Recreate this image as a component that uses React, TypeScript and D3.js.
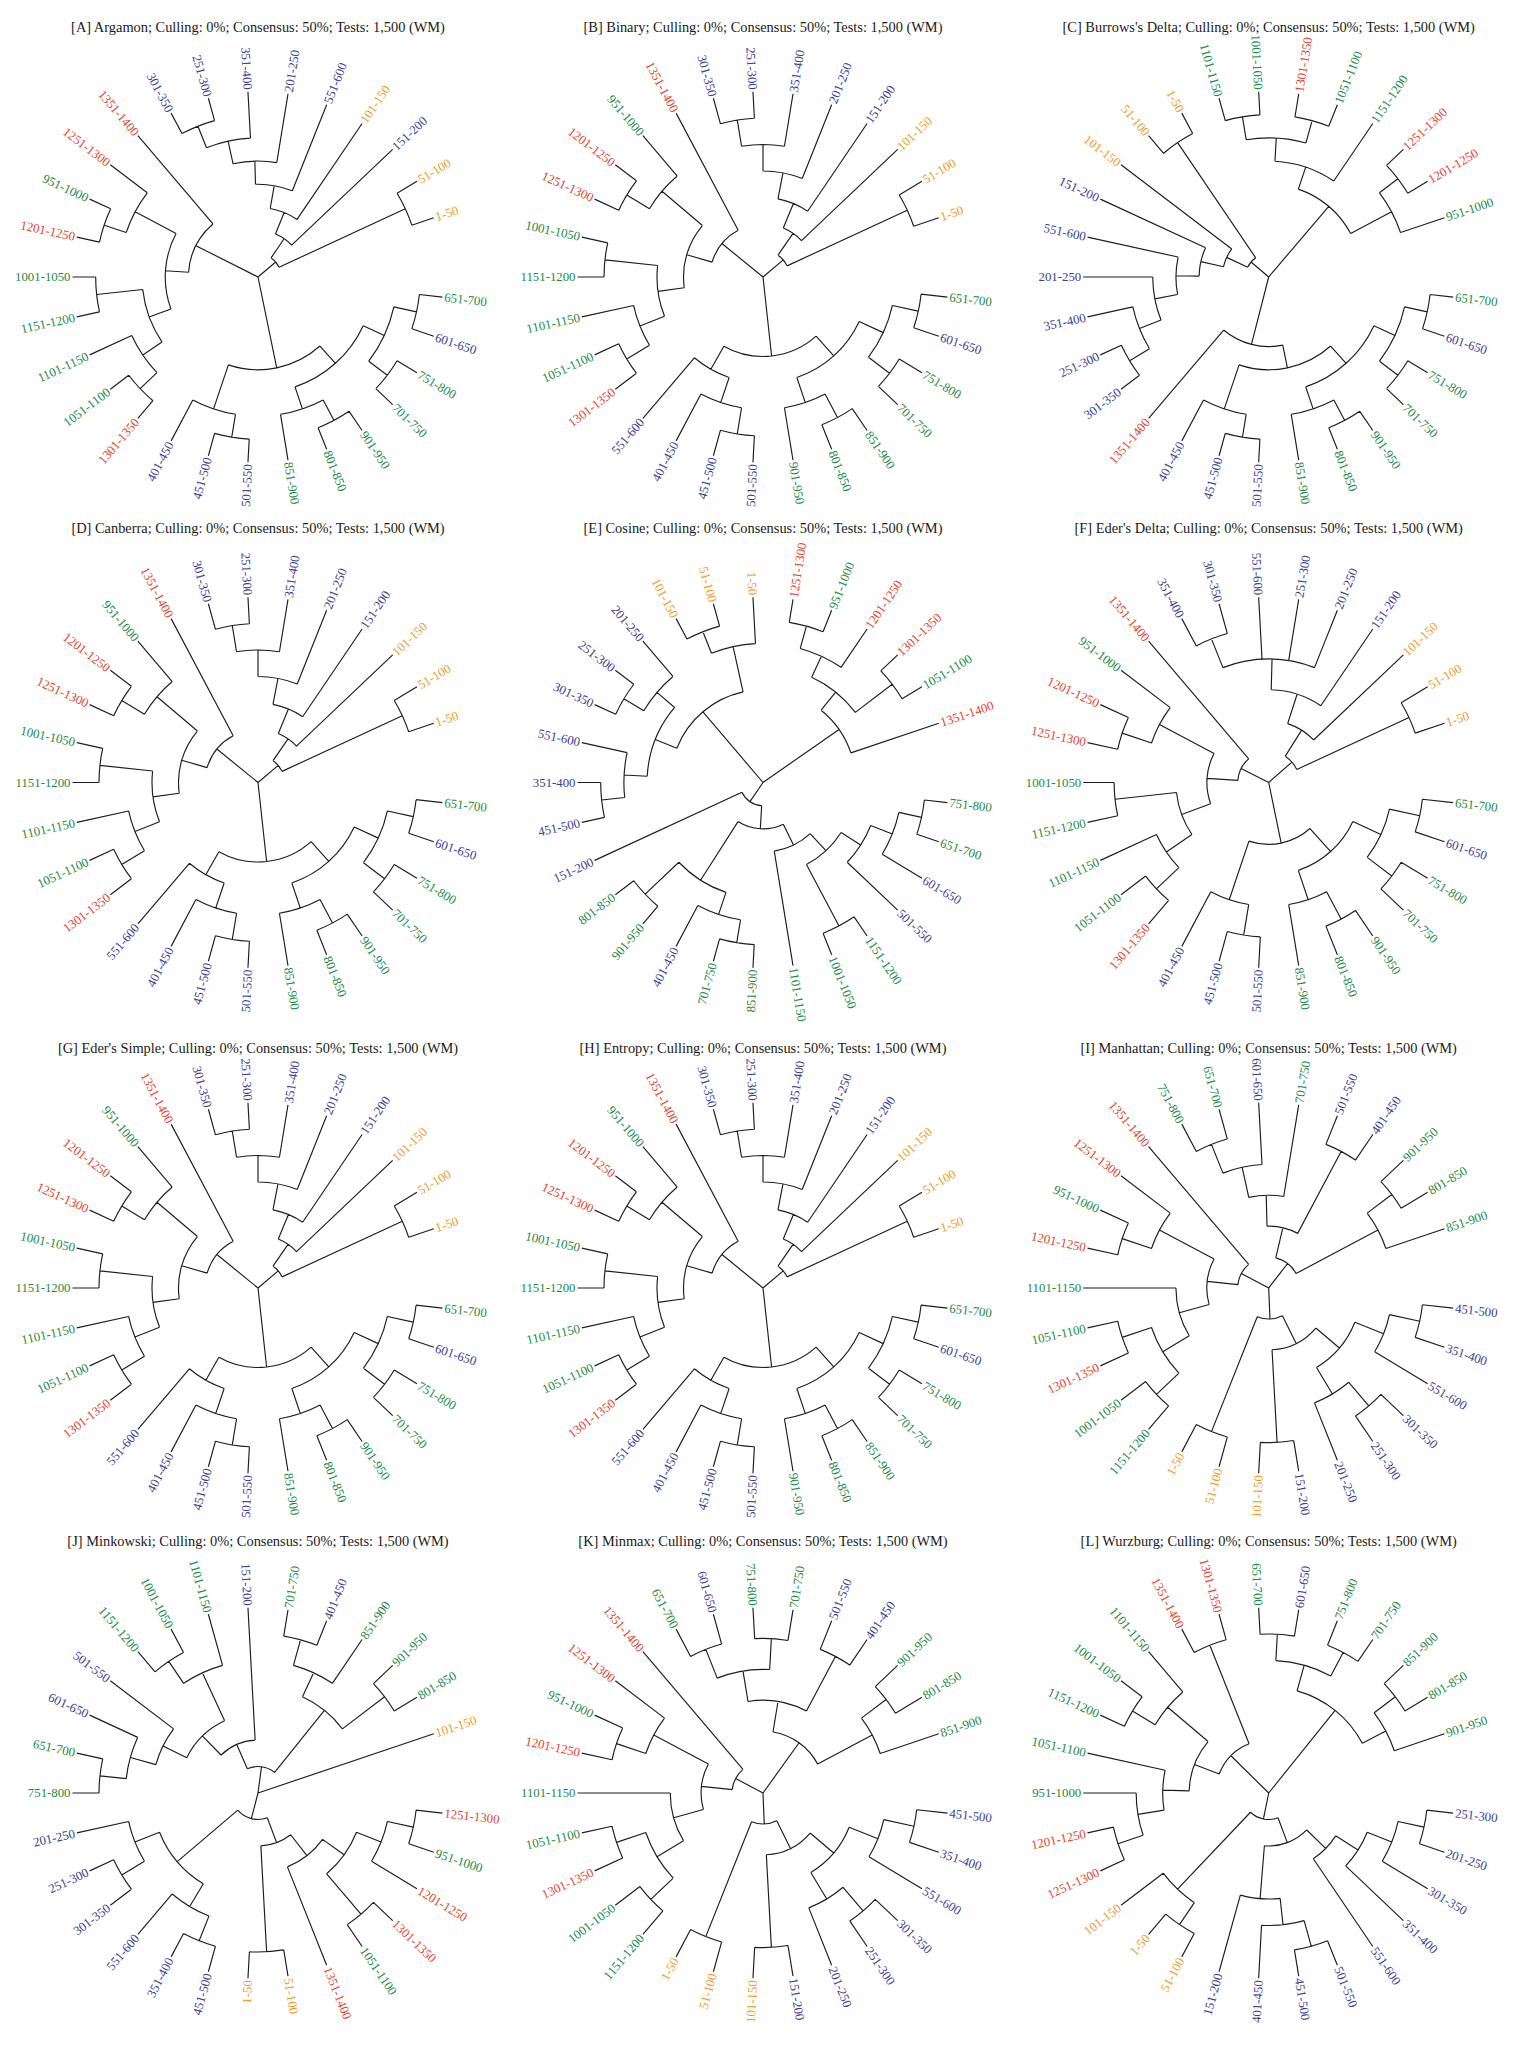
import * as d3 from 'd3';

const WIDTH = 1528;
const HEIGHT = 2048;
const TIP_RADIUS = 185.5;
const LABEL_GAP = 2;
// tips sit on 29 equal angular slots, the first one 1.5 slots above east
const N_SLOTS = 29;
const FIRST_SLOT = 1.5;

const COL_X = [258, 763, 1268.7];
const ROW_Y = [277, 782.5, 1288, 1793];
const TITLE_Y = [27, 528, 1048, 1541];

const LETTERS = ['A', 'B', 'C', 'D', 'E', 'F', 'G', 'H', 'I', 'J', 'K', 'L'];
const METHODS = [
  'Argamon', 'Binary', "Burrows's Delta", 'Canberra', 'Cosine', "Eder's Delta",
  "Eder's Simple", 'Entropy', 'Manhattan', 'Minkowski', 'Minmax', 'Wurzburg',
];
const SETTINGS = 'Culling: 0%; Consensus: 50%; Tests: 1,500 (WM)';

// segment groups (label colours)
const ORANGE_SEGMENTS = ['1-50', '51-100', '101-150'];
const BLUE_SEGMENTS = ['151-200', '201-250', '251-300', '301-350', '351-400', '401-450', '451-500', '501-550', '551-600', '601-650'];
const GREEN_SEGMENTS = ['651-700', '701-750', '751-800', '801-850', '851-900', '901-950', '951-1000', '1001-1050', '1051-1100', '1101-1150', '1151-1200'];
const RED_SEGMENTS = ['1201-1250', '1251-1300', '1301-1350', '1351-1400'];

// consensus trees, tips in counter-clockwise order starting from the east
const TREES = [
  // A Argamon
  '(((1-50,51-100),(151-200,(101-150,(551-600,(201-250,(351-400,(251-300,301-350))))))),(1351-1400,((1251-1300,(951-1000,1201-1250)),((1001-1050,1151-1200),(1101-1150,(1051-1100,1301-1350))))),((401-450,(451-500,501-550)),((851-900,(801-850,901-950)),((701-750,751-800),(601-650,651-700)))))',
  // B Binary
  '(((1-50,51-100),(101-150,(151-200,(201-250,(351-400,(251-300,301-350)))))),(1351-1400,((951-1000,(1201-1250,1251-1300)),((1001-1050,1151-1200),(1101-1150,(1051-1100,1301-1350))))),((551-600,(401-450,(451-500,501-550))),((901-950,(801-850,851-900)),((701-750,751-800),(601-650,651-700)))))',
  // C Burrows's Delta
  '(((951-1000,(1201-1250,1251-1300)),(1151-1200,((1051-1100,1301-1350),(1001-1050,1101-1150)))),((1-50,51-100),(101-150,(151-200,(551-600,(201-250,(351-400,(251-300,301-350))))))),(1351-1400,((401-450,(451-500,501-550)),((851-900,(801-850,901-950)),((701-750,751-800),(601-650,651-700))))))',
  // D Canberra
  '(((1-50,51-100),(101-150,(151-200,(201-250,(351-400,(251-300,301-350)))))),(1351-1400,((951-1000,(1201-1250,1251-1300)),((1001-1050,1151-1200),(1101-1150,(1051-1100,1301-1350))))),((551-600,(401-450,(451-500,501-550))),((851-900,(801-850,901-950)),((701-750,751-800),(601-650,651-700)))))',
  // E Cosine
  '((1351-1400,((1051-1100,1301-1350),(1201-1250,(951-1000,1251-1300)))),((1-50,(51-100,101-150)),((201-250,(251-300,301-350)),(551-600,(351-400,451-500)))),(151-200,(((801-850,901-950),(401-450,(701-750,851-900))),(1101-1150,((1001-1050,1151-1200),(501-550,(601-650,(651-700,751-800))))))))',
  // F Eder's Delta
  '(((1-50,51-100),(101-150,(151-200,(201-250,251-300,551-600,(301-350,351-400))))),(1351-1400,((951-1000,(1201-1250,1251-1300)),((1001-1050,1151-1200),(1101-1150,(1051-1100,1301-1350))))),((401-450,(451-500,501-550)),((851-900,(801-850,901-950)),((701-750,751-800),(601-650,651-700)))))',
  // G Eder's Simple
  '(((1-50,51-100),(101-150,(151-200,(201-250,(351-400,(251-300,301-350)))))),(1351-1400,((951-1000,(1201-1250,1251-1300)),((1001-1050,1151-1200),(1101-1150,(1051-1100,1301-1350))))),((551-600,(401-450,(451-500,501-550))),((851-900,(801-850,901-950)),((701-750,751-800),(601-650,651-700)))))',
  // H Entropy
  '(((1-50,51-100),(101-150,(151-200,(201-250,(351-400,(251-300,301-350)))))),(1351-1400,((951-1000,(1201-1250,1251-1300)),((1001-1050,1151-1200),(1101-1150,(1051-1100,1301-1350))))),((551-600,(401-450,(451-500,501-550))),((901-950,(801-850,851-900)),((701-750,751-800),(601-650,651-700)))))',
  // I Manhattan
  '(((851-900,(801-850,901-950)),((401-450,501-550),(701-750,(601-650,(651-700,751-800))))),(1351-1400,((1251-1300,(951-1000,1201-1250)),(1101-1150,((1051-1100,1301-1350),(1001-1050,1151-1200))))),((1-50,51-100),((101-150,151-200),((201-250,(251-300,301-350)),(551-600,(351-400,451-500))))))',
  // J Minkowski
  '(101-150,(((801-850,901-950),(851-900,(401-450,701-750))),(151-200,((1101-1150,(1001-1050,1151-1200)),(501-550,(601-650,(651-700,751-800)))))),(((201-250,(251-300,301-350)),(551-600,(351-400,451-500))),((1-50,51-100),(1351-1400,((1051-1100,1301-1350),(1201-1250,(951-1000,1251-1300)))))))',
  // K Minmax
  '(((851-900,(801-850,901-950)),((401-450,501-550),((701-750,751-800),(601-650,651-700)))),(1351-1400,((1251-1300,(951-1000,1201-1250)),(1101-1150,((1051-1100,1301-1350),(1001-1050,1151-1200))))),((1-50,51-100),((101-150,151-200),((201-250,(251-300,301-350)),(551-600,(351-400,451-500))))))',
  // L Wurzburg
  '(((901-950,(801-850,851-900)),((701-750,751-800),(601-650,651-700))),((1301-1350,1351-1400),((1101-1150,(1001-1050,1151-1200)),(1051-1100,(951-1000,(1201-1250,1251-1300))))),((101-150,(1-50,51-100)),((151-200,(401-450,(451-500,501-550))),(551-600,(351-400,(301-350,(201-250,251-300)))))))',
];

const colorOf = (label: string) => {
  if (ORANGE_SEGMENTS.includes(label)) return '#f39a28';
  if (BLUE_SEGMENTS.includes(label)) return '#3b3d94';
  if (GREEN_SEGMENTS.includes(label)) return '#1b8a45';
  if (RED_SEGMENTS.includes(label)) return '#e8432d';
  return '#222';
};

type TreeNode = { name?: string; children?: TreeNode[] };

// tiny newick reader (no branch lengths)
function parseNewick(s: string): TreeNode {
  let i = 0;
  const read = (): TreeNode => {
    if (s[i] === '(') {
      i++;
      const children: TreeNode[] = [read()];
      while (s[i] === ',') {
        i++;
        children.push(read());
      }
      i++;
      return { children };
    }
    let name = '';
    while (i < s.length && !',()'.includes(s[i])) name += s[i++];
    return { name };
  };
  return read();
}

function layoutTree(newick: string) {
  const root: any = d3.hierarchy(parseNewick(newick));
  const angle = d3.scaleLinear().domain([0, N_SLOTS]).range([0, 2 * Math.PI]);
  // fan cladogram: tips all on the outer circle, node depth by height
  const radius = d3.scaleLinear().domain([root.height, 0]).range([0, TIP_RADIUS]);

  root.leaves().forEach((leaf: any, k: number) => {
    leaf.theta = angle(k + FIRST_SLOT);
  });
  root.eachAfter((n: any) => {
    if (n.children) n.theta = d3.mean(n.children, (c: any) => c.theta);
    n.r = radius(n.height);
  });

  const pt = (r: number, t: number): [number, number] => [r * Math.cos(t), -r * Math.sin(t)];

  const path = d3.path();
  root.each((n: any) => {
    if (n.parent) {
      const [x0, y0] = pt(n.parent.r, n.theta);
      const [x1, y1] = pt(n.r, n.theta);
      path.moveTo(x0, y0);
      path.lineTo(x1, y1);
    }
    if (n.children && n.r > 0) {
      const t0 = n.children[0].theta;
      const t1 = n.children[n.children.length - 1].theta;
      const [xs, ys] = pt(n.r, t0);
      path.moveTo(xs, ys);
      path.arc(0, 0, n.r, -t0, -t1, true);
    }
  });

  const labels = root.leaves().map((leaf: any) => {
    const [x, y] = pt(TIP_RADIUS + LABEL_GAP, leaf.theta);
    const deg = (leaf.theta * 180) / Math.PI;
    const right = Math.cos(leaf.theta) >= 0;
    return {
      name: leaf.data.name as string,
      x,
      y,
      rotate: right ? -deg : 180 - deg,
      anchor: right ? 'start' : 'end',
    };
  });

  return { d: path.toString(), labels };
}

const Panel = ({ index }: { index: number }) => {
  const col = index % 3;
  const row = Math.floor(index / 3);
  const cx = COL_X[col];
  const cy = ROW_Y[row];
  const { d, labels } = layoutTree(TREES[index]);

  return (
    <g>
      <text
        x={cx}
        y={TITLE_Y[row]}
        textAnchor="middle"
        dominantBaseline="central"
        fontSize={14.4}
        fill="#1a1a1a"
      >
        {`[${LETTERS[index]}] ${METHODS[index]}; ${SETTINGS}`}
      </text>
      <g transform={`translate(${cx}, ${cy})`}>
        <path d={d} fill="none" stroke="#1c1c1c" strokeWidth={1.15} />
        {labels.map((l: any) => (
          <text
            key={l.name}
            transform={`translate(${l.x}, ${l.y}) rotate(${l.rotate})`}
            textAnchor={l.anchor}
            dy="0.34em"
            fontSize={12.8}
            fill={colorOf(l.name)}
          >
            {l.name}
          </text>
        ))}
      </g>
    </g>
  );
};

export default function App() {
  return (
    <div style={{ position: 'absolute', left: 0, top: 0 }}>
      <svg
        width={WIDTH}
        height={HEIGHT}
        style={{ display: 'block', fontFamily: '"Liberation Serif", "DejaVu Serif", serif' }}
      >
        <rect width={WIDTH} height={HEIGHT} fill="#fff" />
        {TREES.map((_, i) => (
          <Panel key={i} index={i} />
        ))}
      </svg>
    </div>
  );
}
